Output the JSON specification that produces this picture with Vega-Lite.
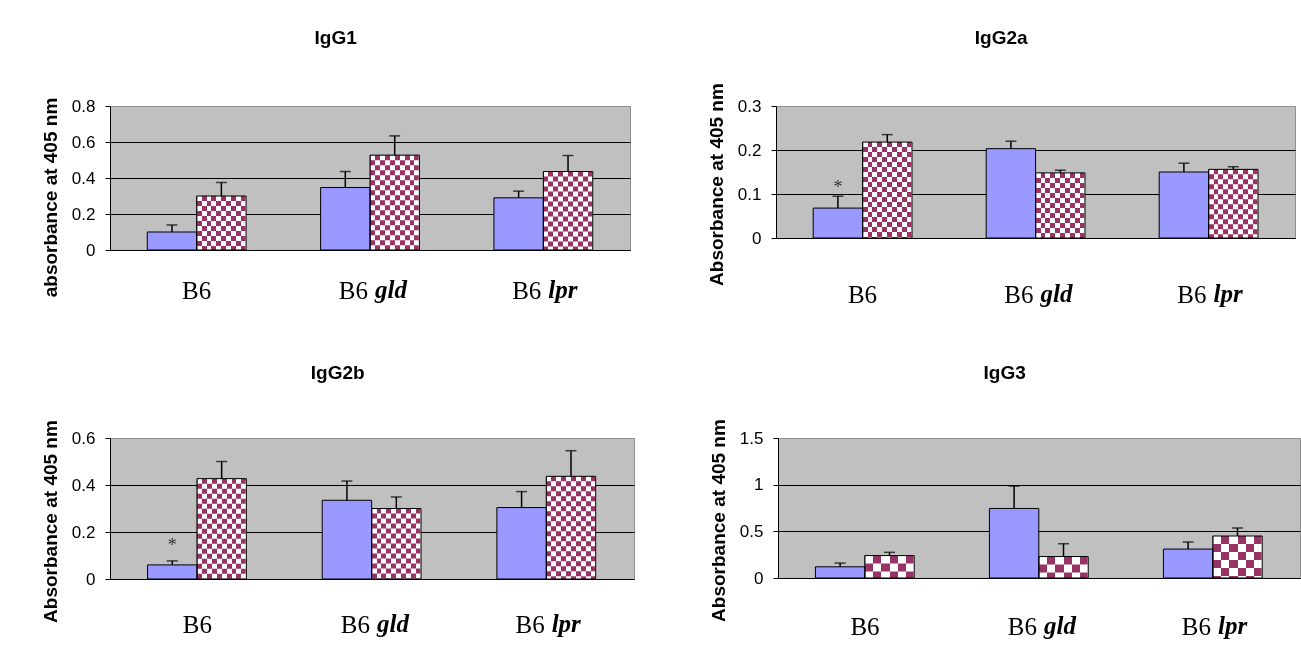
{
  "$schema": "https://vega.github.io/schema/vega-lite/v6.json",
  "background": "white",
  "padding": {"left": 40, "top": 28, "right": 0, "bottom": 0},
  "datasets": {
    "igg1": [
      {"group": "B6", "series": "s1", "value": 0.10, "err": 0.139},
      {"group": "B6", "series": "s2", "value": 0.30, "err": 0.375},
      {"group": "B6 gld", "series": "s1", "value": 0.347, "err": 0.436, "suffix": "gld"},
      {"group": "B6 gld", "series": "s2", "value": 0.527, "err": 0.634},
      {"group": "B6 lpr", "series": "s1", "value": 0.29, "err": 0.327, "suffix": "lpr"},
      {"group": "B6 lpr", "series": "s2", "value": 0.436, "err": 0.525}
    ],
    "igg2a": [
      {"group": "B6", "series": "s1", "value": 0.068, "err": 0.095, "sig": "*"},
      {"group": "B6", "series": "s2", "value": 0.218, "err": 0.235},
      {"group": "B6 gld", "series": "s1", "value": 0.203, "err": 0.22, "suffix": "gld"},
      {"group": "B6 gld", "series": "s2", "value": 0.148, "err": 0.154},
      {"group": "B6 lpr", "series": "s1", "value": 0.15, "err": 0.17, "suffix": "lpr"},
      {"group": "B6 lpr", "series": "s2", "value": 0.156, "err": 0.162}
    ],
    "igg2b": [
      {"group": "B6", "series": "s1", "value": 0.06, "err": 0.077, "sig": "*"},
      {"group": "B6", "series": "s2", "value": 0.427, "err": 0.50},
      {"group": "B6 gld", "series": "s1", "value": 0.335, "err": 0.417, "suffix": "gld"},
      {"group": "B6 gld", "series": "s2", "value": 0.30, "err": 0.349},
      {"group": "B6 lpr", "series": "s1", "value": 0.304, "err": 0.372, "suffix": "lpr"},
      {"group": "B6 lpr", "series": "s2", "value": 0.437, "err": 0.546}
    ],
    "igg3": [
      {"group": "B6", "series": "s1", "value": 0.12, "err": 0.16},
      {"group": "B6", "series": "s2", "value": 0.24, "err": 0.275},
      {"group": "B6 gld", "series": "s1", "value": 0.745, "err": 0.985, "suffix": "gld"},
      {"group": "B6 gld", "series": "s2", "value": 0.23, "err": 0.367},
      {"group": "B6 lpr", "series": "s1", "value": 0.31, "err": 0.385, "suffix": "lpr"},
      {"group": "B6 lpr", "series": "s2", "value": 0.45, "err": 0.536}
    ]
  },
  "bounds": "flush",
  "spacing": 332,
  "vconcat": [
    {
      "bounds": "flush",
      "spacing": 146,
      "hconcat": [
        {
          "width": 520, "height": 144,
          "data": {"name": "igg1"},
          "title": {"text": "IgG1", "offset": 49},
          "encoding": {
            "x": {"field": "group", "type": "nominal", "scale": {"domain": ["B6", "B6 gld", "B6 lpr"], "paddingInner": 0.43, "paddingOuter": 0.215},
              "axis": {"title": null, "labelPadding": 28, "labelExpr": "split(datum.label, ' ')[0]", "labelAlign": {"condition": {"test": "datum.value == 'B6'", "value": "center"}, "value": "right"}, "labelOffset": {"condition": {"test": "datum.value == 'B6'", "value": 0}, "value": -2}}},
            "y": {"field": "value", "type": "quantitative", "title": "absorbance at 405 nm", "scale": {"domain": [0, 0.8], "nice": false},
              "axis": {"values": [0, 0.2, 0.4, 0.6, 0.8], "titleY": 91, "gridColor": {"condition": {"test": "datum.value >= 0.79", "value": "#909090"}, "value": "black"}}}
          },
          "layer": [
            {"transform": [{"filter": "datum.series == 's2'"}],
             "mark": {"type": "bar", "strokeWidth": 0, "fill": {"gradient": "linear", "x1": 0, "y1": 0, "x2": 1, "y2": 0, "stops": [
               {"offset": 0, "color": "black"}, {"offset": 0.1, "color": "black"}, {"offset": 0.1, "color": "white"}, {"offset": 0.2, "color": "white"},
               {"offset": 0.2, "color": "black"}, {"offset": 0.3, "color": "black"}, {"offset": 0.3, "color": "white"}, {"offset": 0.4, "color": "white"},
               {"offset": 0.4, "color": "black"}, {"offset": 0.5, "color": "black"}, {"offset": 0.5, "color": "white"}, {"offset": 0.6, "color": "white"},
               {"offset": 0.6, "color": "black"}, {"offset": 0.7, "color": "black"}, {"offset": 0.7, "color": "white"}, {"offset": 0.8, "color": "white"},
               {"offset": 0.8, "color": "black"}, {"offset": 0.9, "color": "black"}, {"offset": 0.9, "color": "white"}, {"offset": 1, "color": "white"}]}},
             "encoding": {"xOffset": {"field": "series", "type": "nominal", "scale": {"domain": ["s1", "s2"], "paddingInner": 0, "paddingOuter": 0}}}},
            {"transform": [{"filter": "datum.series == 's2'"}],
             "mark": {"type": "rule", "color": "white", "strokeWidth": 48, "strokeDash": [5, 5], "strokeCap": "butt", "blend": "difference"},
             "encoding": {"xOffset": {"field": "series", "type": "nominal"}, "y2": {"datum": 0}}},
            {"transform": [{"filter": "datum.series == 's2'"}],
             "mark": {"type": "bar", "fill": "#993366", "strokeWidth": 0, "blend": "screen"},
             "encoding": {"xOffset": {"field": "series", "type": "nominal"}}},
            {"mark": {"type": "bar", "stroke": "black", "strokeWidth": 1},
             "encoding": {"xOffset": {"field": "series", "type": "nominal"}, "fill": {"field": "series", "type": "nominal", "scale": {"domain": ["s1", "s2"], "range": ["#9999FF", "rgba(0,0,0,0)"]}, "legend": null}}},
            {"mark": {"type": "rule", "color": "black", "strokeWidth": 1.5},
             "encoding": {"xOffset": {"field": "series", "type": "nominal"}, "y2": {"field": "err"}}},
            {"mark": {"type": "tick", "color": "black", "thickness": 1.5, "size": 11, "orient": "horizontal"},
             "encoding": {"xOffset": {"field": "series", "type": "nominal"}, "y": {"field": "err", "type": "quantitative", "title": "absorbance at 405 nm"}}},
            {"transform": [{"filter": "datum.suffix"}],
             "mark": {"type": "text", "font": "Liberation Serif", "fontSize": 25, "fontStyle": "italic", "fontWeight": "bold", "align": "left", "baseline": "top", "dx": 5, "dy": 28, "color": "black"},
             "encoding": {"y": {"datum": 0, "type": "quantitative", "title": "absorbance at 405 nm"}, "text": {"field": "suffix"}}}
          ]
        },
        {
          "width": 519, "height": 132,
          "data": {"name": "igg2a"},
          "title": {"text": "IgG2a", "offset": 35},
          "encoding": {
            "x": {"field": "group", "type": "nominal", "scale": {"domain": ["B6", "B6 gld", "B6 lpr"], "paddingInner": 0.43, "paddingOuter": 0.215},
              "axis": {"title": null, "labelPadding": 44, "labelExpr": "split(datum.label, ' ')[0]", "labelAlign": {"condition": {"test": "datum.value == 'B6'", "value": "center"}, "value": "right"}, "labelOffset": {"condition": {"test": "datum.value == 'B6'", "value": 0}, "value": -2}}},
            "y": {"field": "value", "type": "quantitative", "title": "Absorbance at 405 nm", "scale": {"domain": [0, 0.3], "nice": false},
              "axis": {"values": [0, 0.1, 0.2, 0.3], "titleY": 78, "gridColor": {"condition": {"test": "datum.value >= 0.29", "value": "#909090"}, "value": "black"}}}
          },
          "layer": [
            {"transform": [{"filter": "datum.series == 's2'"}],
             "mark": {"type": "bar", "strokeWidth": 0, "fill": {"gradient": "linear", "x1": 0, "y1": 0, "x2": 1, "y2": 0, "stops": [
               {"offset": 0, "color": "black"}, {"offset": 0.1, "color": "black"}, {"offset": 0.1, "color": "white"}, {"offset": 0.2, "color": "white"},
               {"offset": 0.2, "color": "black"}, {"offset": 0.3, "color": "black"}, {"offset": 0.3, "color": "white"}, {"offset": 0.4, "color": "white"},
               {"offset": 0.4, "color": "black"}, {"offset": 0.5, "color": "black"}, {"offset": 0.5, "color": "white"}, {"offset": 0.6, "color": "white"},
               {"offset": 0.6, "color": "black"}, {"offset": 0.7, "color": "black"}, {"offset": 0.7, "color": "white"}, {"offset": 0.8, "color": "white"},
               {"offset": 0.8, "color": "black"}, {"offset": 0.9, "color": "black"}, {"offset": 0.9, "color": "white"}, {"offset": 1, "color": "white"}]}},
             "encoding": {"xOffset": {"field": "series", "type": "nominal", "scale": {"domain": ["s1", "s2"], "paddingInner": 0, "paddingOuter": 0}}}},
            {"transform": [{"filter": "datum.series == 's2'"}],
             "mark": {"type": "rule", "color": "white", "strokeWidth": 48, "strokeDash": [5, 5], "strokeCap": "butt", "blend": "difference"},
             "encoding": {"xOffset": {"field": "series", "type": "nominal"}, "y2": {"datum": 0}}},
            {"transform": [{"filter": "datum.series == 's2'"}],
             "mark": {"type": "bar", "fill": "#993366", "strokeWidth": 0, "blend": "screen"},
             "encoding": {"xOffset": {"field": "series", "type": "nominal"}}},
            {"mark": {"type": "bar", "stroke": "black", "strokeWidth": 1},
             "encoding": {"xOffset": {"field": "series", "type": "nominal"}, "fill": {"field": "series", "type": "nominal", "scale": {"domain": ["s1", "s2"], "range": ["#9999FF", "rgba(0,0,0,0)"]}, "legend": null}}},
            {"mark": {"type": "rule", "color": "black", "strokeWidth": 1.5},
             "encoding": {"xOffset": {"field": "series", "type": "nominal"}, "y2": {"field": "err"}}},
            {"mark": {"type": "tick", "color": "black", "thickness": 1.5, "size": 11, "orient": "horizontal"},
             "encoding": {"xOffset": {"field": "series", "type": "nominal"}, "y": {"field": "err", "type": "quantitative", "title": "Absorbance at 405 nm"}}},
            {"transform": [{"filter": "datum.sig"}],
             "mark": {"type": "text", "font": "Liberation Serif", "fontSize": 18, "baseline": "alphabetic", "dy": -3, "color": "#333333"},
             "encoding": {"xOffset": {"field": "series", "type": "nominal"}, "y": {"field": "err", "type": "quantitative", "title": "Absorbance at 405 nm"}, "text": {"field": "sig"}}},
            {"transform": [{"filter": "datum.suffix"}],
             "mark": {"type": "text", "font": "Liberation Serif", "fontSize": 25, "fontStyle": "italic", "fontWeight": "bold", "align": "left", "baseline": "top", "dx": 5, "dy": 44, "color": "black"},
             "encoding": {"y": {"datum": 0, "type": "quantitative", "title": "Absorbance at 405 nm"}, "text": {"field": "suffix"}}}
          ]
        }
      ]
    },
    {
      "bounds": "flush",
      "spacing": 144,
      "hconcat": [
        {
          "width": 524, "height": 141,
          "data": {"name": "igg2b"},
          "title": {"text": "IgG2b", "offset": 37},
          "encoding": {
            "x": {"field": "group", "type": "nominal", "scale": {"domain": ["B6", "B6 gld", "B6 lpr"], "paddingInner": 0.43, "paddingOuter": 0.215},
              "axis": {"title": null, "labelPadding": 33, "labelExpr": "split(datum.label, ' ')[0]", "labelAlign": {"condition": {"test": "datum.value == 'B6'", "value": "center"}, "value": "right"}, "labelOffset": {"condition": {"test": "datum.value == 'B6'", "value": 0}, "value": -2}}},
            "y": {"field": "value", "type": "quantitative", "title": "Absorbance at 405 nm", "scale": {"domain": [0, 0.6], "nice": false},
              "axis": {"values": [0, 0.2, 0.4, 0.6], "titleY": 83, "gridColor": {"condition": {"test": "datum.value >= 0.59", "value": "#909090"}, "value": "black"}}}
          },
          "layer": [
            {"transform": [{"filter": "datum.series == 's2'"}],
             "mark": {"type": "bar", "strokeWidth": 0, "fill": {"gradient": "linear", "x1": 0, "y1": 0, "x2": 1, "y2": 0, "stops": [
               {"offset": 0, "color": "black"}, {"offset": 0.1, "color": "black"}, {"offset": 0.1, "color": "white"}, {"offset": 0.2, "color": "white"},
               {"offset": 0.2, "color": "black"}, {"offset": 0.3, "color": "black"}, {"offset": 0.3, "color": "white"}, {"offset": 0.4, "color": "white"},
               {"offset": 0.4, "color": "black"}, {"offset": 0.5, "color": "black"}, {"offset": 0.5, "color": "white"}, {"offset": 0.6, "color": "white"},
               {"offset": 0.6, "color": "black"}, {"offset": 0.7, "color": "black"}, {"offset": 0.7, "color": "white"}, {"offset": 0.8, "color": "white"},
               {"offset": 0.8, "color": "black"}, {"offset": 0.9, "color": "black"}, {"offset": 0.9, "color": "white"}, {"offset": 1, "color": "white"}]}},
             "encoding": {"xOffset": {"field": "series", "type": "nominal", "scale": {"domain": ["s1", "s2"], "paddingInner": 0, "paddingOuter": 0}}}},
            {"transform": [{"filter": "datum.series == 's2'"}],
             "mark": {"type": "rule", "color": "white", "strokeWidth": 48, "strokeDash": [5, 5], "strokeCap": "butt", "blend": "difference"},
             "encoding": {"xOffset": {"field": "series", "type": "nominal"}, "y2": {"datum": 0}}},
            {"transform": [{"filter": "datum.series == 's2'"}],
             "mark": {"type": "bar", "fill": "#993366", "strokeWidth": 0, "blend": "screen"},
             "encoding": {"xOffset": {"field": "series", "type": "nominal"}}},
            {"mark": {"type": "bar", "stroke": "black", "strokeWidth": 1},
             "encoding": {"xOffset": {"field": "series", "type": "nominal"}, "fill": {"field": "series", "type": "nominal", "scale": {"domain": ["s1", "s2"], "range": ["#9999FF", "rgba(0,0,0,0)"]}, "legend": null}}},
            {"mark": {"type": "rule", "color": "black", "strokeWidth": 1.5},
             "encoding": {"xOffset": {"field": "series", "type": "nominal"}, "y2": {"field": "err"}}},
            {"mark": {"type": "tick", "color": "black", "thickness": 1.5, "size": 11, "orient": "horizontal"},
             "encoding": {"xOffset": {"field": "series", "type": "nominal"}, "y": {"field": "err", "type": "quantitative", "title": "Absorbance at 405 nm"}}},
            {"transform": [{"filter": "datum.sig"}],
             "mark": {"type": "text", "font": "Liberation Serif", "fontSize": 18, "baseline": "alphabetic", "dy": -10, "color": "#333333"},
             "encoding": {"xOffset": {"field": "series", "type": "nominal"}, "y": {"field": "err", "type": "quantitative", "title": "Absorbance at 405 nm"}, "text": {"field": "sig"}}},
            {"transform": [{"filter": "datum.suffix"}],
             "mark": {"type": "text", "font": "Liberation Serif", "fontSize": 25, "fontStyle": "italic", "fontWeight": "bold", "align": "left", "baseline": "top", "dx": 5, "dy": 33, "color": "black"},
             "encoding": {"y": {"datum": 0, "type": "quantitative", "title": "Absorbance at 405 nm"}, "text": {"field": "suffix"}}}
          ]
        },
        {
          "width": 522, "height": 140,
          "data": {"name": "igg3"},
          "title": {"text": "IgG3", "offset": 36},
          "encoding": {
            "x": {"field": "group", "type": "nominal", "scale": {"domain": ["B6", "B6 gld", "B6 lpr"], "paddingInner": 0.43, "paddingOuter": 0.215},
              "axis": {"title": null, "labelPadding": 36, "labelExpr": "split(datum.label, ' ')[0]", "labelAlign": {"condition": {"test": "datum.value == 'B6'", "value": "center"}, "value": "right"}, "labelOffset": {"condition": {"test": "datum.value == 'B6'", "value": 0}, "value": -2}}},
            "y": {"field": "value", "type": "quantitative", "title": "Absorbance at 405 nm", "scale": {"domain": [0, 1.5], "nice": false},
              "axis": {"values": [0, 0.5, 1, 1.5], "titleY": 82, "gridColor": {"condition": {"test": "datum.value >= 1.49", "value": "#909090"}, "value": "black"}}}
          },
          "layer": [
            {"transform": [{"filter": "datum.series == 's2'"}],
             "mark": {"type": "bar", "strokeWidth": 0, "fill": {"gradient": "linear", "x1": 0, "y1": 0, "x2": 1, "y2": 0, "stops": [
               {"offset": 0, "color": "black"}, {"offset": 0.1667, "color": "black"}, {"offset": 0.1667, "color": "white"}, {"offset": 0.3333, "color": "white"},
               {"offset": 0.3333, "color": "black"}, {"offset": 0.5, "color": "black"}, {"offset": 0.5, "color": "white"}, {"offset": 0.6667, "color": "white"},
               {"offset": 0.6667, "color": "black"}, {"offset": 0.8333, "color": "black"}, {"offset": 0.8333, "color": "white"}, {"offset": 1, "color": "white"}]}},
             "encoding": {"xOffset": {"field": "series", "type": "nominal", "scale": {"domain": ["s1", "s2"], "paddingInner": 0, "paddingOuter": 0}}}},
            {"transform": [{"filter": "datum.series == 's2'"}],
             "mark": {"type": "rule", "color": "white", "strokeWidth": 48, "strokeDash": [8, 8], "strokeCap": "butt", "blend": "difference"},
             "encoding": {"xOffset": {"field": "series", "type": "nominal"}, "y2": {"datum": 0}}},
            {"transform": [{"filter": "datum.series == 's2'"}],
             "mark": {"type": "bar", "fill": "#993366", "strokeWidth": 0, "blend": "screen"},
             "encoding": {"xOffset": {"field": "series", "type": "nominal"}}},
            {"mark": {"type": "bar", "stroke": "black", "strokeWidth": 1},
             "encoding": {"xOffset": {"field": "series", "type": "nominal"}, "fill": {"field": "series", "type": "nominal", "scale": {"domain": ["s1", "s2"], "range": ["#9999FF", "rgba(0,0,0,0)"]}, "legend": null}}},
            {"mark": {"type": "rule", "color": "black", "strokeWidth": 1.5},
             "encoding": {"xOffset": {"field": "series", "type": "nominal"}, "y2": {"field": "err"}}},
            {"mark": {"type": "tick", "color": "black", "thickness": 1.5, "size": 11, "orient": "horizontal"},
             "encoding": {"xOffset": {"field": "series", "type": "nominal"}, "y": {"field": "err", "type": "quantitative", "title": "Absorbance at 405 nm"}}},
            {"transform": [{"filter": "datum.suffix"}],
             "mark": {"type": "text", "font": "Liberation Serif", "fontSize": 25, "fontStyle": "italic", "fontWeight": "bold", "align": "left", "baseline": "top", "dx": 5, "dy": 36, "color": "black"},
             "encoding": {"y": {"datum": 0, "type": "quantitative", "title": "Absorbance at 405 nm"}, "text": {"field": "suffix"}}}
          ]
        }
      ]
    }
  ],
  "config": {
    "view": {"fill": "#C0C0C0", "stroke": "#909090", "strokeWidth": 1},
    "title": {"font": "Liberation Sans", "fontSize": 19, "fontWeight": "bold", "color": "black", "anchor": "middle", "frame": "bounds"},
    "axisX": {"ticks": false, "domainColor": "black", "domainWidth": 1, "labelFont": "Liberation Serif", "labelFontSize": 25, "labelColor": "black", "labelAngle": 0, "grid": false},
    "axisY": {"format": "~g", "grid": true, "gridWidth": 1, "ticks": true, "tickSize": 5, "tickColor": "black", "domainColor": "black", "domainWidth": 1, "labelFont": "Liberation Sans", "labelFontSize": 17, "labelColor": "black", "labelPadding": 10, "titleFont": "Liberation Sans", "titleFontSize": 19, "titleFontWeight": "bold", "titleColor": "black", "titlePadding": 11}
  }
}
